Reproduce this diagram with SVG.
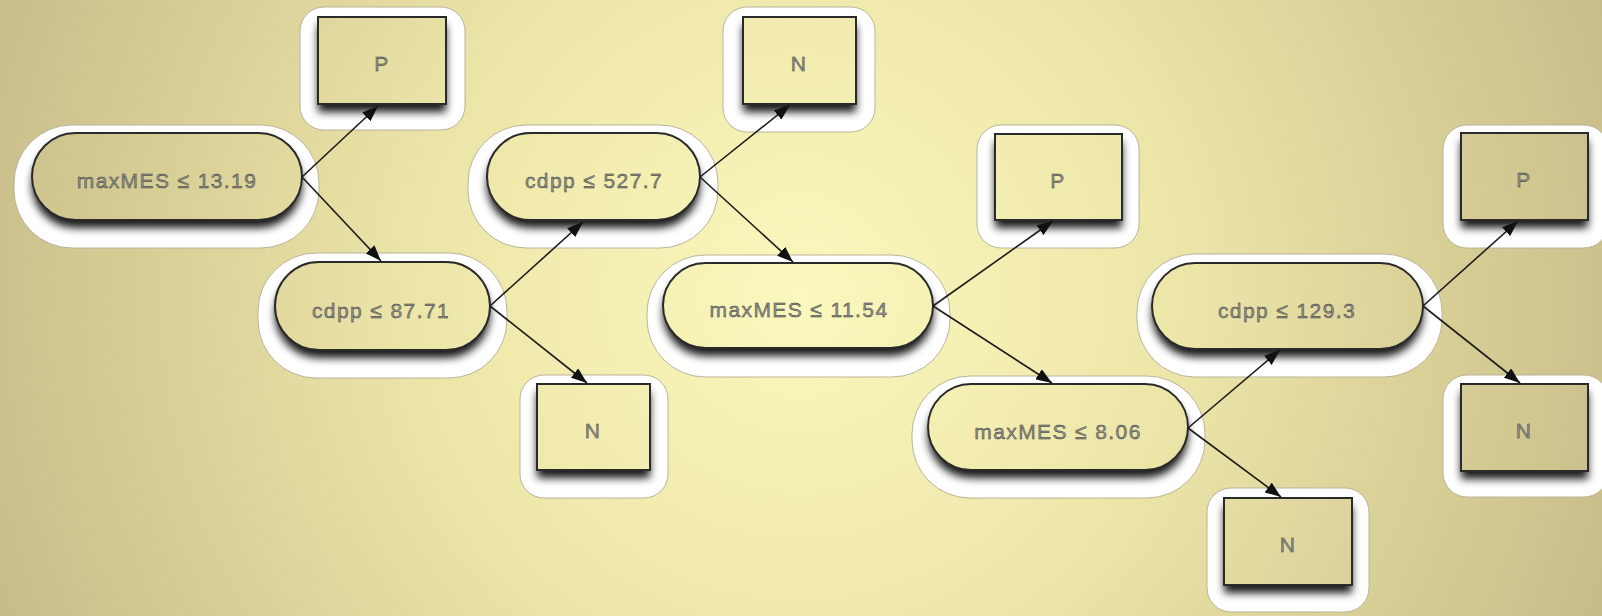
<svg xmlns="http://www.w3.org/2000/svg" width="1602" height="616" viewBox="0 0 1602 616">
<defs>
<radialGradient id="bg" gradientUnits="userSpaceOnUse" cx="800" cy="295" r="860">
<stop offset="0" stop-color="#fbf8bd"/>
<stop offset="0.45" stop-color="#ece5a8"/>
<stop offset="1" stop-color="#c7bc88"/>
</radialGradient>
<filter id="blur" x="-20%" y="-30%" width="140%" height="180%">
<feGaussianBlur stdDeviation="4.5"/>
</filter>
<marker id="arr" viewBox="0 0 16 12" refX="16" refY="6" markerWidth="16" markerHeight="12" markerUnits="userSpaceOnUse" orient="auto">
<path d="M0,0 L16,6 L0,12 z" fill="#111"/>
</marker>
<style>
.halo{fill:#ffffff;stroke:#b9b39a;stroke-width:1}
.shadow{fill:#000;opacity:0.9;filter:url(#blur)}
.shape{fill:url(#bg);stroke:#2a2a2a;stroke-width:2}
.lbl{font-family:"Liberation Sans",Arial,sans-serif;font-size:21px;letter-spacing:1.4px;fill:#909088;stroke:#333333;stroke-width:0.4;text-anchor:middle;dominant-baseline:central}
.edge{stroke:#1c1c1c;stroke-width:1.6;fill:none;marker-end:url(#arr)}
</style>
</defs>
<rect x="0" y="0" width="1602" height="616" fill="url(#bg)"/>

<g id="n1">
<rect class="halo" x="14" y="125" width="305" height="123" rx="58"/>
<rect class="shadow" x="32" y="141" width="270" height="87" rx="43.5"/>
<rect class="shape" x="32" y="133" width="270" height="87" rx="43.5"/>
<text class="lbl" x="167" y="180">maxMES ≤ 13.19</text>
</g>

<g id="p1">
<rect class="halo" x="300" y="7" width="165" height="123" rx="24"/>
<rect class="shadow" x="318" y="25" width="128" height="87"/>
<rect class="shape" x="318" y="17" width="128" height="87"/>
<text class="lbl" x="382" y="63">P</text>
</g>

<g id="n2">
<rect class="halo" x="258" y="253" width="249" height="125" rx="58"/>
<rect class="shadow" x="275" y="270" width="215" height="88" rx="44"/>
<rect class="shape" x="275" y="262" width="215" height="88" rx="44"/>
<text class="lbl" x="381" y="310">cdpp ≤ 87.71</text>
</g>

<g id="leafN1">
<rect class="halo" x="520" y="375" width="148" height="123" rx="24"/>
<rect class="shadow" x="537" y="392" width="113" height="86"/>
<rect class="shape" x="537" y="384" width="113" height="86"/>
<text class="lbl" x="593" y="430">N</text>
</g>

<g id="n3">
<rect class="halo" x="468" y="125" width="250" height="123" rx="58"/>
<rect class="shadow" x="487" y="141" width="213" height="87" rx="43.5"/>
<rect class="shape" x="487" y="133" width="213" height="87" rx="43.5"/>
<text class="lbl" x="594" y="180">cdpp ≤ 527.7</text>
</g>

<g id="leafN2">
<rect class="halo" x="723" y="7" width="152" height="125" rx="24"/>
<rect class="shadow" x="743" y="25" width="113" height="87"/>
<rect class="shape" x="743" y="17" width="113" height="87"/>
<text class="lbl" x="799" y="63">N</text>
</g>

<g id="n4">
<rect class="halo" x="647" y="255" width="303" height="122" rx="58"/>
<rect class="shadow" x="663" y="271" width="270" height="85" rx="42.5"/>
<rect class="shape" x="663" y="263" width="270" height="85" rx="42.5"/>
<text class="lbl" x="799" y="309">maxMES ≤ 11.54</text>
</g>

<g id="leafP2">
<rect class="halo" x="977" y="125" width="162" height="123" rx="24"/>
<rect class="shadow" x="995" y="142" width="127" height="86"/>
<rect class="shape" x="995" y="134" width="127" height="86"/>
<text class="lbl" x="1058" y="180">P</text>
</g>

<g id="n5">
<rect class="halo" x="912" y="376" width="293" height="122" rx="58"/>
<rect class="shadow" x="928" y="392" width="260" height="86" rx="43"/>
<rect class="shape" x="928" y="384" width="260" height="86" rx="43"/>
<text class="lbl" x="1058" y="431">maxMES ≤ 8.06</text>
</g>

<g id="leafN3">
<rect class="halo" x="1207" y="488" width="162" height="124" rx="24"/>
<rect class="shadow" x="1224" y="506" width="128" height="87"/>
<rect class="shape" x="1224" y="498" width="128" height="87"/>
<text class="lbl" x="1288" y="544">N</text>
</g>

<g id="n6">
<rect class="halo" x="1137" y="254" width="305" height="123" rx="58"/>
<rect class="shadow" x="1152" y="271" width="271" height="86" rx="43"/>
<rect class="shape" x="1152" y="263" width="271" height="86" rx="43"/>
<text class="lbl" x="1287" y="310">cdpp ≤ 129.3</text>
</g>

<g id="leafP3">
<rect class="halo" x="1443" y="125" width="165" height="123" rx="24"/>
<rect class="shadow" x="1461" y="141" width="127" height="87"/>
<rect class="shape" x="1461" y="133" width="127" height="87"/>
<text class="lbl" x="1524" y="179">P</text>
</g>

<g id="leafN4">
<rect class="halo" x="1443" y="375" width="165" height="122" rx="24"/>
<rect class="shadow" x="1461" y="392" width="127" height="87"/>
<rect class="shape" x="1461" y="384" width="127" height="87"/>
<text class="lbl" x="1524" y="430">N</text>
</g>

<g id="connectors">
<line class="edge" x1="302" y1="177" x2="378" y2="106"/>
<line class="edge" x1="302" y1="177" x2="381" y2="261"/>
<line class="edge" x1="490" y1="306" x2="583" y2="222"/>
<line class="edge" x1="490" y1="306" x2="587" y2="383"/>
<line class="edge" x1="700" y1="177" x2="790" y2="105"/>
<line class="edge" x1="700" y1="177" x2="793" y2="262"/>
<line class="edge" x1="933" y1="306" x2="1053" y2="221"/>
<line class="edge" x1="933" y1="306" x2="1052" y2="383"/>
<line class="edge" x1="1188" y1="428" x2="1280" y2="350"/>
<line class="edge" x1="1188" y1="428" x2="1281" y2="497"/>
<line class="edge" x1="1423" y1="306" x2="1518" y2="221"/>
<line class="edge" x1="1423" y1="306" x2="1520" y2="383"/>
</g>
</svg>
